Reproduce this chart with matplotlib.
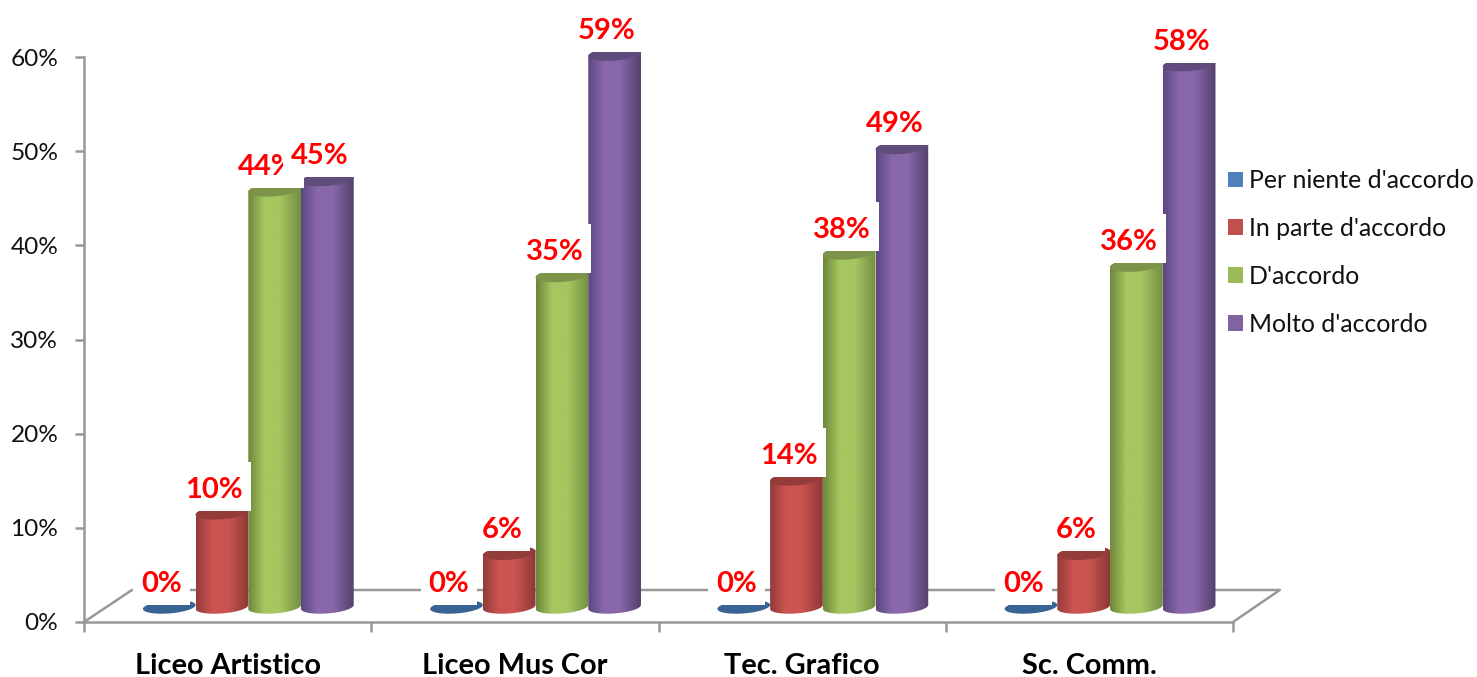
import numpy as np
from matplotlib import pyplot as plt
from matplotlib.colors import LinearSegmentedColormap
from matplotlib.patches import Patch, PathPatch, Polygon
from matplotlib.path import Path

plt.rcParams['font.family'] = ['Lato', 'DejaVu Sans']

categories = ['Liceo Artistico', 'Liceo Mus Cor', 'Tec. Grafico', 'Sc. Comm.']
series_names = ["Per niente d'accordo", "In parte d'accordo", "D'accordo", "Molto d'accordo"]
per_niente = [0, 0, 0, 0]
in_parte = [10.0, 5.7, 13.6, 5.7]
d_accordo = [44.3, 35.2, 37.6, 36.3]
molto = [45.4, 58.7, 48.8, 57.6]
y_ticks = [0, 10, 20, 30, 40, 50, 60]

legend_colors = ['#4f81bd', '#c0504d', '#9bbb59', '#8064a2']
# bordo scuro, centro chiaro, bordo scuro, coperchio
shades = [
    ('#2f5580', '#3f6fa5', '#2f5580', '#386392'),
    ('#933b39', '#cb5451', '#8d3937', '#933c3a'),
    ('#6d883a', '#a5c660', '#758f43', '#7c9349'),
    ('#5c4880', '#8868aa', '#54426e', '#5f4c7d'),
]

W, H = 1477, 677
fig = plt.figure(figsize=(W / 100, H / 100), dpi=100)
ax = fig.add_axes([84 / W, 1 - 622 / H, (1233 - 84) / W, (622 - 57) / H])
ax.patch.set_visible(False)

bar_w = 0.1835
start = 0.205
base = 1.6
a = bar_w / 2
b = 0.69
tilt = 0.21
grey = '#989898'


def ellipse(xc, yc, t):
    return np.column_stack([xc + a * np.cos(t), yc + b * np.sin(t) + tilt * np.cos(t)])


# riquadro bianco delle etichette, piu' alto sopra il testo
def label_box(x0, y0, width, height, mutation_size):
    x1, y1 = x0 + width + 8, y0 + height + 15
    x0, y0 = x0 - 8, y0 - 8
    return Path([(x0, y0), (x1, y0), (x1, y1), (x0, y1), (x0, y0)], closed=True)


# pavimento 3D dietro le barre
ax.plot([0, 0.167, 4.163, 4], [0, 3.4, 3.4, 0], color=grey, lw=1.8, clip_on=False, zorder=1)

all_series = [per_niente, in_parte, d_accordo, molto]
for i in range(len(categories)):
    for k, values in enumerate(all_series):
        v = values[i]
        xc = i + start + bar_w * (k + 0.5)
        top = base + v
        z = 2 + i + k * 0.1
        edge_l, mid, edge_r, cap = shades[k]
        if v > 0:
            low = ellipse(xc, base, np.linspace(np.pi, 2 * np.pi, 40))
            up = ellipse(xc, top, np.linspace(0, np.pi, 40))
            body = Path(np.vstack([low, up, low[:1]]), closed=True)
            cmap = LinearSegmentedColormap.from_list(
                'c', [(0, edge_l), (0.3, mid), (0.6, mid), (1, edge_r)])
            im = ax.imshow(np.linspace(0, 1, 64).reshape(1, -1), cmap=cmap, aspect='auto',
                           extent=[xc - a, xc + a, base - b - tilt, top + b + tilt],
                           interpolation='bilinear', zorder=z)
            im.set_clip_path(PathPatch(body, transform=ax.transData))
            im.set_clip_box(fig.bbox)
        ax.add_patch(Polygon(ellipse(xc, top, np.linspace(0, 2 * np.pi, 60)), closed=True,
                             fc=cap, ec='none', zorder=z + 0.01, clip_on=False))

# etichette con sfondo bianco, coprono la parte alta dei coperchi
for i in range(len(categories)):
    for k, values in enumerate(all_series):
        v = values[i]
        xc = i + start + bar_w * (k + 0.5)
        ax.annotate('%d%%' % round(v), (xc, base + v + 0.21), xytext=(-7.5, 8),
                    textcoords='offset pixels', ha='center', va='bottom',
                    color='#ff0000', fontsize=21, fontweight='bold',
                    bbox=dict(boxstyle=label_box, fc='white', ec='none'),
                    zorder=20 + i + k * 0.1, annotation_clip=False)

ax.set_xlim(0, 4)
ax.set_ylim(0, 60)
ax.set_yticks(y_ticks)
ax.set_yticklabels(['%d%%' % t for t in y_ticks], fontsize=17.6, color='#111111')
ax.set_xticks(range(5))
ax.set_xticklabels([])
ax.set_xticks(np.arange(4) + 0.5, categories, minor=True, fontsize=20.8, fontweight='bold',
              color='#000000')
ax.tick_params(axis='y', length=6.5, width=1.8, color=grey, pad=12)
ax.tick_params(axis='x', which='major', length=7.2, width=1.8, color=grey)
ax.tick_params(axis='x', which='minor', length=0, pad=22)
for name in ['top', 'right']:
    ax.spines[name].set_visible(False)
for name in ['left', 'bottom']:
    ax.spines[name].set_color(grey)
    ax.spines[name].set_linewidth(1.8)

fs = 17.9
handles = [Patch(fc=c, ec='none') for c in legend_colors]
leg = fig.legend(handles, series_names, loc='center left', bbox_to_anchor=(1228 / W, 1 - 252.5 / H),
                 frameon=False, fontsize=fs, borderaxespad=0, borderpad=0,
                 handlelength=10.8 / fs, handleheight=10.8 / fs, handletextpad=4.3 / fs,
                 labelspacing=1.0)
for t in leg.get_texts():
    t.set_color('#111111')

fig.savefig('out.png', dpi=100)
